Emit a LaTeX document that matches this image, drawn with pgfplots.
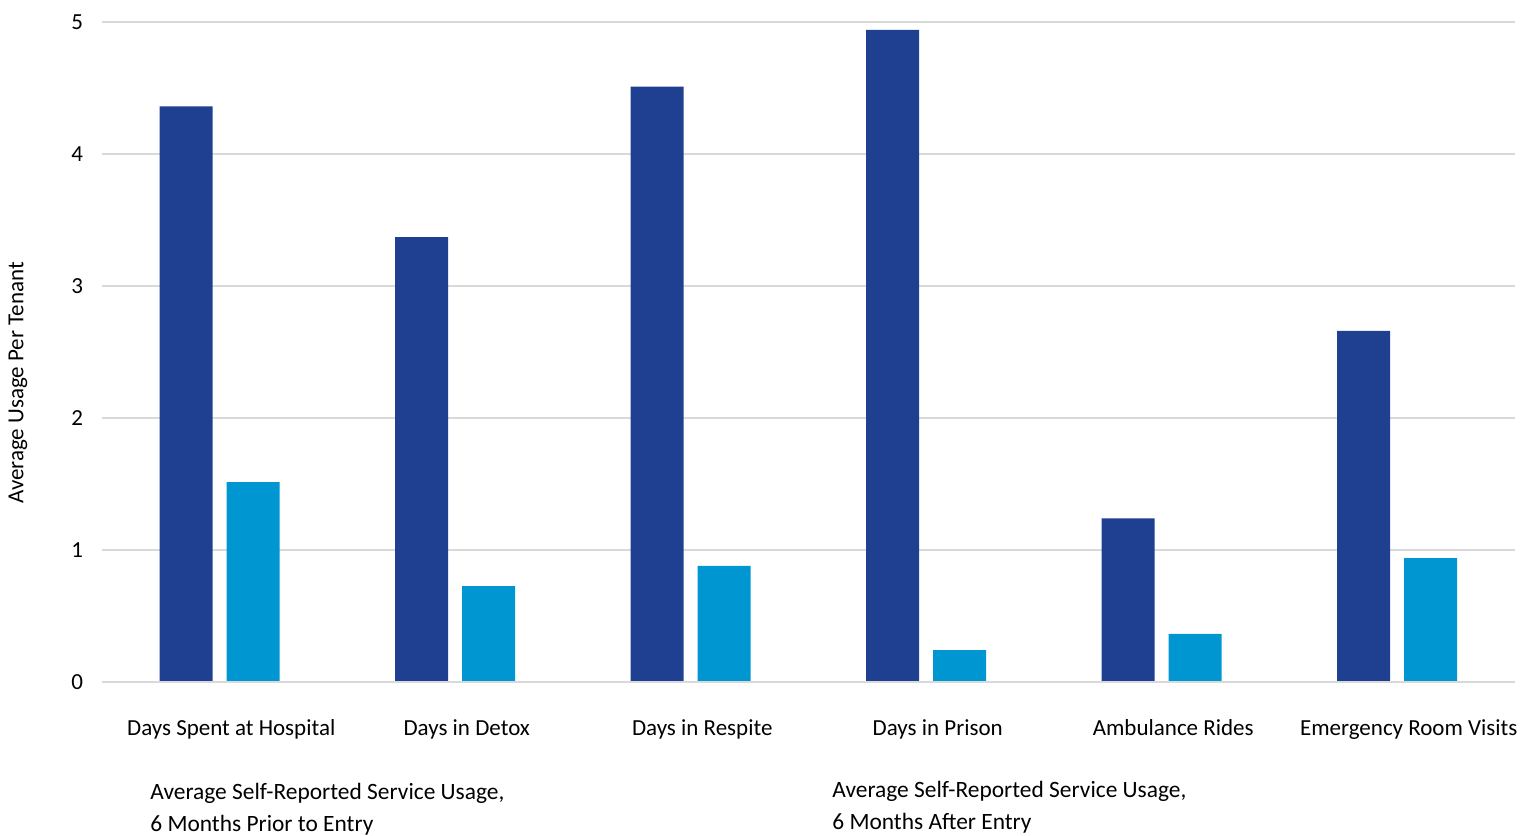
\documentclass[border=0pt]{standalone}
\usepackage{pgfplots}
\pgfplotsset{compat=1.18}
\usepackage{fontspec}
\setmainfont{Carlito}
\definecolor{darkb}{HTML}{1F3F91}
\definecolor{lightb}{HTML}{0096D2}
\definecolor{gridc}{HTML}{D9D9D9}
\begin{document}
\fontsize{11.5pt}{16pt}\selectfont
\begin{tikzpicture}
\begin{axis}[
  scale only axis,
  width=706.5pt, height=330pt,
  xmin=-0.5, xmax=5.5,
  ymin=0, ymax=5,
  ytick={0,1,2,3,4,5},
  xtick={0,1,2,3,4,5},
  xticklabels={Days Spent at Hospital, Days in Detox, Days in Respite, Days in Prison, Ambulance Rides, Emergency Room Visits},
  axis line style={draw=none},
  major tick length=0pt,
  ymajorgrids,
  grid style={gridc, line width=0.75pt},
  /pgf/number format/assume math mode=true,
  tick label style={font=\fontsize{11.5pt}{14pt}\selectfont, text=black},
  xticklabel style={anchor=base, yshift=-26.5pt, xshift=5.75pt},
  yticklabel style={anchor=east, xshift=-5.5pt},
  ylabel={Average Usage Per Tenant},
  ylabel style={font=\fontsize{11.5pt}{14pt}\selectfont},
  every axis y label/.append style={at={(axis description cs:-0.0595,0.453)}, anchor=center},
  ybar=7pt,
  bar width=26.5pt,
  clip=false,
]
\addplot[fill=darkb, draw=none] coordinates {(0,4.36) (1,3.37) (2,4.51) (3,4.94) (4,1.24) (5,2.66)};
\addplot[fill=lightb, draw=none] coordinates {(0,1.515) (1,0.727) (2,0.879) (3,0.242) (4,0.364) (5,0.939)};
\draw[gridc, line width=0.75pt] (axis cs:-0.5,0) -- (axis cs:5.5,0);
\end{axis}
\node[anchor=base west, align=left, inner sep=0pt, font=\fontsize{11.7pt}{16pt}\selectfont] at (24pt,-74.5pt) {Average Self-Reported Service Usage,\\6 Months Prior to Entry};
\node[anchor=base west, align=left, inner sep=0pt, font=\fontsize{11.7pt}{16pt}\selectfont] at (365pt,-73.5pt) {Average Self-Reported Service Usage,\\6 Months After Entry};
\path[use as bounding box] (-51pt,-77pt) rectangle (715.5pt,341pt);
\end{tikzpicture}
\end{document}
